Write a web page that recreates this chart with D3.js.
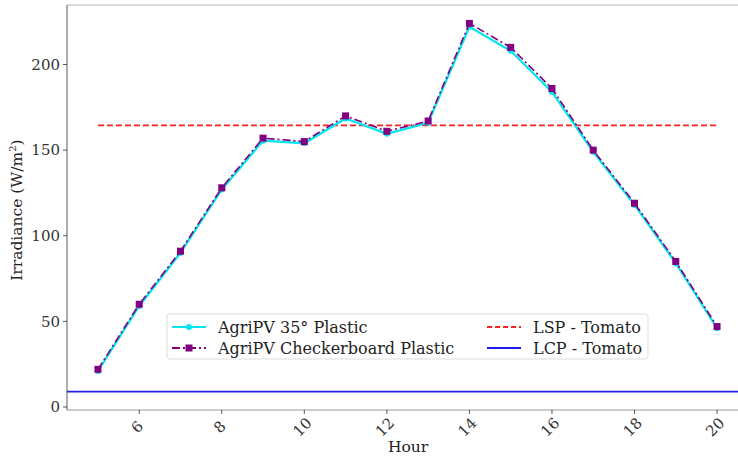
<!DOCTYPE html>
<html>
<head>
<meta charset="utf-8">
<script src="https://cdn.jsdelivr.net/npm/d3@7"></script>
<style>
  body { margin: 0; background: #fff; }
  svg { font-family: "DejaVu Serif", serif; }
</style>
</head>
<body>
<div id="chart"></div>
<script>
const width = 738,
	height = 459;

const hours = [5, 6, 7, 8, 9, 10, 11, 12, 13, 14, 15, 16, 17, 18, 19, 20];
const plastic35 = [21, 59, 90, 127, 155.5, 154, 168.5, 159.5, 166, 222, 208, 184, 149, 118, 84, 46];
const checkerboard = [22, 60, 91, 128, 157, 155, 170, 161, 167, 224, 210, 186, 150, 119, 85, 47];
const lspTomato = 164.5;
const lcpTomato = 9;
const xTicks = [6, 8, 10, 12, 14, 16, 18, 20];
const yTicks = [0, 50, 100, 150, 200];

const margin = { left: 67, top: 5, right: -10, bottom: 49 };

const x = d3.scaleLinear()
	.domain([4.25, 20.75])
	.range([margin.left, width - margin.right]);

const y = d3.scaleLinear()
	.domain([-1.75, 234.75])
	.range([height - margin.bottom, margin.top]);

const svg = d3.select("#chart")
	.append("svg")
	.attr("width", width)
	.attr("height", height);

// spines
svg.append("line")
	.attr("x1", margin.left).attr("x2", width)
	.attr("y1", margin.top).attr("y2", margin.top)
	.attr("stroke", "#ccc").attr("stroke-width", 1.5);
svg.append("line")
	.attr("x1", margin.left).attr("x2", width)
	.attr("y1", height - margin.bottom).attr("y2", height - margin.bottom)
	.attr("stroke", "#bbb").attr("stroke-width", 1.5);
svg.append("line")
	.attr("x1", margin.left).attr("x2", margin.left)
	.attr("y1", margin.top).attr("y2", height - margin.bottom)
	.attr("stroke", "#777").attr("stroke-width", 1.2);

// y ticks
const yAxis = svg.append("g");
yAxis.selectAll("line")
	.data(yTicks)
	.join("line")
	.attr("x1", margin.left - 4).attr("x2", margin.left)
	.attr("y1", (d) => y(d)).attr("y2", (d) => y(d))
	.attr("stroke", "#555");
yAxis.selectAll("text")
	.data(yTicks)
	.join("text")
	.attr("x", margin.left - 7)
	.attr("y", (d) => y(d))
	.attr("dy", "0.35em")
	.attr("text-anchor", "end")
	.attr("font-size", 15)
	.attr("fill", "#333")
	.text((d) => d);

// x ticks
const xAxis = svg.append("g");
xAxis.selectAll("line")
	.data(xTicks)
	.join("line")
	.attr("x1", (d) => x(d)).attr("x2", (d) => x(d))
	.attr("y1", height - margin.bottom).attr("y2", height - margin.bottom + 4)
	.attr("stroke", "#555");
xAxis.selectAll("text")
	.data(xTicks)
	.join("text")
	.attr("transform", (d) => `translate(${x(d) - 2},${height - margin.bottom + 17}) rotate(-45)`)
	.attr("dy", "0.35em")
	.attr("text-anchor", "middle")
	.attr("font-size", 15)
	.attr("fill", "#333")
	.text((d) => d);

svg.append("text")
	.attr("x", 408)
	.attr("y", 452)
	.attr("text-anchor", "middle")
	.attr("font-size", 15.5)
	.attr("fill", "#222")
	.text("Hour");

svg.append("text")
	.attr("transform", `translate(22,${y(115)}) rotate(-90)`)
	.attr("text-anchor", "middle")
	.attr("font-size", 15.5)
	.attr("fill", "#222")
	.html('Irradiance (W/m<tspan font-size="10" dy="-6">2</tspan><tspan dy="6">)</tspan>');

// reference lines
svg.append("line")
	.attr("x1", x(hours[0])).attr("x2", x(hours[hours.length - 1]))
	.attr("y1", y(lspTomato)).attr("y2", y(lspTomato))
	.attr("stroke", "#ff2020").attr("stroke-width", 1.8)
	.attr("stroke-dasharray", "6,3");
svg.append("line")
	.attr("x1", margin.left).attr("x2", width)
	.attr("y1", y(lcpTomato)).attr("y2", y(lcpTomato))
	.attr("stroke", "#2020ee").attr("stroke-width", 1.8);

const line = d3.line()
	.x((d) => x(d[0]))
	.y((d) => y(d[1]));

const cyanData = hours.map((h, i) => [h, plastic35[i]]);
const purpleData = hours.map((h, i) => [h, checkerboard[i]]);

svg.append("path")
	.datum(cyanData)
	.attr("d", line)
	.attr("fill", "none")
	.attr("stroke", "#00e5ee")
	.attr("stroke-width", 2.2);
svg.append("g")
	.selectAll("circle")
	.data(cyanData)
	.join("circle")
	.attr("cx", (d) => x(d[0]))
	.attr("cy", (d) => y(d[1]))
	.attr("r", 3)
	.attr("fill", "#00e5ee");

svg.append("path")
	.datum(purpleData)
	.attr("d", line)
	.attr("fill", "none")
	.attr("stroke", "#800080")
	.attr("stroke-width", 1.6)
	.attr("stroke-dasharray", "8,3,2,3");
svg.append("g")
	.selectAll("rect")
	.data(purpleData)
	.join("rect")
	.attr("x", (d) => x(d[0]) - 3.5)
	.attr("y", (d) => y(d[1]) - 3.5)
	.attr("width", 7)
	.attr("height", 7)
	.attr("fill", "#800080");

// legend
const legend = svg.append("g");
legend.append("rect")
	.attr("x", 167).attr("y", 314)
	.attr("width", 481).attr("height", 45)
	.attr("rx", 3)
	.attr("fill", "#fff")
	.attr("fill-opacity", 0.85)
	.attr("stroke", "#ddd");

const entries = [
	{ label: "AgriPV 35° Plastic", color: "#00e5ee", dash: null, marker: "circle", col: 0, row: 0 },
	{ label: "AgriPV Checkerboard Plastic", color: "#800080", dash: "8,3,2,3", marker: "square", col: 0, row: 1 },
	{ label: "LSP - Tomato", color: "#ff2020", dash: "5,3", marker: null, col: 1, row: 0 },
	{ label: "LCP - Tomato", color: "#2020ee", dash: null, marker: null, col: 1, row: 1 },
];
const colX = [172, 487];
const rowY = [327, 348];

entries.forEach((e) => {
	const lx = colX[e.col],
		ly = rowY[e.row];
	legend.append("line")
		.attr("x1", lx).attr("x2", lx + 34)
		.attr("y1", ly).attr("y2", ly)
		.attr("stroke", e.color)
		.attr("stroke-width", e.marker === "circle" ? 2.2 : 1.8)
		.attr("stroke-dasharray", e.dash);
	if (e.marker === "circle") {
		legend.append("circle").attr("cx", lx + 17).attr("cy", ly).attr("r", 3).attr("fill", e.color);
	} else if (e.marker === "square") {
		legend.append("rect").attr("x", lx + 13.5).attr("y", ly - 3.5).attr("width", 7).attr("height", 7).attr("fill", e.color);
	}
	legend.append("text")
		.attr("x", lx + 46)
		.attr("y", ly)
		.attr("dy", "0.35em")
		.attr("font-size", 16)
		.attr("fill", "#222")
		.text(e.label);
});
</script>
</body>
</html>
